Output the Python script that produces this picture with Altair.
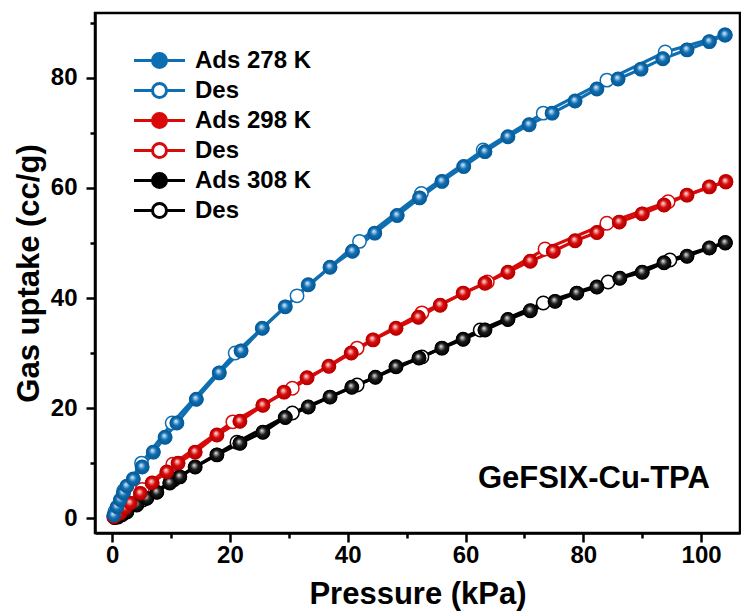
import altair as alt
import pandas as pd

# ---------------- data ----------------
P_ADS_278 = [0.3, 0.85, 1.4, 1.9, 2.5, 3.6, 5.1, 7.0, 9.0, 11.0, 14.3, 18.2, 21.9, 25.5, 29.4,
             33.3, 37.0, 40.8, 44.6, 48.4, 52.2, 56.0, 59.7, 63.3, 67.2, 70.8, 74.7, 78.6,
             82.3, 85.9, 89.8, 93.5, 97.6, 101.4, 104.1]
U_ADS_278 = [0.5, 2.0, 3.3, 4.5, 5.8, 7.1, 9.3, 12.0, 14.7, 17.3, 21.6, 26.4, 30.4, 34.5, 38.4,
             42.4, 45.6, 48.5, 51.8, 55.0, 58.2, 61.2, 63.9, 66.6, 69.3, 71.5, 73.6, 75.8,
             78.0, 79.8, 81.6, 83.5, 85.1, 86.6, 87.8]
P_DES_278 = [104.0, 93.9, 84.0, 73.2, 63.0, 52.5, 42.0, 31.4, 20.9, 10.2, 5.0, 2.0, 0.5]
U_DES_278 = [87.8, 84.7, 79.6, 73.6, 66.9, 59.0, 50.3, 40.4, 30.0, 17.3, 10.0, 5.0, 1.2]

P_ADS_298 = [0.3, 0.7, 1.4, 2.2, 3.1, 4.8, 6.8, 9.3, 11.2, 14.1, 17.8, 21.7, 25.6, 29.2, 33.1,
             36.8, 40.6, 44.3, 48.2, 52.0, 55.7, 59.6, 63.3, 67.2, 71.0, 74.9, 78.6, 82.3,
             86.1, 90.0, 93.7, 97.6, 101.4, 104.2]
U_ADS_298 = [0.2, 0.5, 0.9, 1.8, 2.7, 4.5, 6.4, 8.4, 10.0, 12.0, 15.1, 17.6, 20.5, 22.9, 25.5,
             27.6, 30.0, 32.4, 34.5, 36.5, 38.7, 40.9, 42.7, 44.7, 46.7, 48.5, 50.4, 51.9,
             53.8, 55.3, 56.9, 58.7, 60.2, 61.1]
P_DES_298 = [104.2, 94.4, 84.0, 73.5, 63.7, 52.6, 41.6, 30.6, 20.5, 10.3, 5.1, 2.0, 0.5]
U_DES_298 = [61.2, 57.5, 53.6, 48.9, 42.9, 37.3, 30.9, 23.6, 17.5, 9.8, 5.2, 2.0, 0.5]

P_ADS_308 = [0.4, 1.0, 1.7, 2.5, 4.2, 5.9, 7.6, 9.8, 11.5, 14.1, 17.8, 21.7, 25.6, 29.4, 33.3,
             37.0, 40.7, 44.7, 48.2, 52.1, 56.0, 59.6, 63.3, 67.2, 71.0, 75.2, 78.9, 82.3,
             86.2, 90.0, 93.7, 97.6, 101.4, 104.1]
U_ADS_308 = [0.1, 0.2, 0.6, 1.1, 2.4, 3.6, 4.7, 6.4, 7.5, 9.3, 11.5, 13.6, 15.6, 18.3, 20.2,
             22.0, 23.8, 25.6, 27.5, 29.1, 30.9, 32.5, 34.2, 36.1, 37.7, 39.4, 40.9, 42.0,
             43.6, 44.7, 46.4, 47.6, 49.1, 50.0]
P_DES_308 = [104.1, 94.7, 84.2, 73.2, 62.5, 52.6, 41.6, 30.6, 21.2, 10.5, 5.2, 2.0, 0.5]
U_DES_308 = [50.1, 46.9, 42.9, 39.1, 34.2, 29.3, 24.2, 19.1, 13.8, 7.0, 3.3, 1.0, 0.2]

SERIES = ["Ads 278 K", "Des 278 K", "Ads 298 K", "Des 298 K", "Ads 308 K", "Des 308 K"]
TEMPS = ["278 K", "298 K", "308 K"]
BLUE, RED, BLACK = "#0E6EB2", "#D90A0A", "#000000"
TEMP_COLORS = [BLUE, RED, BLACK]
STROKES = [BLUE, BLUE, RED, RED, BLACK, BLACK]
FILLS = [BLUE, "#ffffff", RED, "#ffffff", BLACK, "#ffffff"]

ANNOT_TEXT = ["GeFSIX-Cu-TPA"]
ANNOT_P = [81.8]
ANNOT_U = [7.1]

X_TICKS = list(range(0, 101, 10))
Y_TICKS = list(range(0, 91, 10))

# drawing order: black first, blue last
ORDERED = [
    ("Des 308 K", P_DES_308, U_DES_308), ("Ads 308 K", P_ADS_308, U_ADS_308),
    ("Des 298 K", P_DES_298, U_DES_298), ("Ads 298 K", P_ADS_298, U_ADS_298),
    ("Des 278 K", P_DES_278, U_DES_278), ("Ads 278 K", P_ADS_278, U_ADS_278),
]
rows = []
for name, ps, us in ORDERED:
    rows += [{"P": p, "U": u, "series": name, "temp": name[4:]} for p, u in zip(ps, us)]
df = pd.DataFrame(rows)
annot = pd.DataFrame({"P": ANNOT_P, "U": ANNOT_U, "label": ANNOT_TEXT})

FONT = "Liberation Sans"

x_enc = alt.X("P:Q", title="Pressure (kPa)",
              scale=alt.Scale(domain=[-2.9, 106.6], nice=False, zero=False),
              axis=alt.Axis(values=X_TICKS, grid=False,
                            labelExpr="datum.value % 20 === 0 ? datum.label : ''",
                            tickSize={"condition": {"test": "datum.value % 20 === 0", "value": 9}, "value": 5},
                            labelPadding=1, titlePadding=12, labelFlush=False, labelOverlap=False))
y_enc = alt.Y("U:Q", title="Gas uptake (cc/g)",
              scale=alt.Scale(domain=[-2.7, 91.8], nice=False, zero=False),
              axis=alt.Axis(values=Y_TICKS, grid=False,
                            labelExpr="datum.value % 20 === 0 ? datum.label : ''",
                            tickSize={"condition": {"test": "datum.value % 20 === 0", "value": 9}, "value": 5},
                            labelPadding=9, titlePadding=5, labelFlush=False, labelOverlap=False))

# legend glyph: line through a circle; unit box is 28 px, line spans 51 px
LEG_PATH = ("M-1.82,0L-0.5,0M0.5,0L1.82,0"
            "M0.5,0A0.5,0.5 0 1,1 -0.5,0A0.5,0.5 0 1,1 0.5,0Z")
legend = alt.Legend(title=None, orient="none", legendX=49, legendY=32, padding=0,
                    symbolType=LEG_PATH, symbolSize=784, symbolStrokeWidth=3,
                    symbolFillColor="#ffffff", symbolStrokeColor="#000000",
                    symbolOpacity=1, rowPadding=1.0, labelOffset=20,
                    labelFont=FONT, labelFontSize=24, labelFontWeight="bold",
                    labelColor="black", labelLimit=300,
                    labelExpr="indexof(datum.label, 'Des') === 0 ? 'Des' : datum.label")

lines = alt.Chart(df).mark_line(strokeWidth=3.2).encode(
    x=x_enc, y=y_enc,
    color=alt.Color("temp:N", scale=alt.Scale(domain=TEMPS, range=TEMP_COLORS), legend=None),
    detail="series:N",
)

points = alt.Chart(df).mark_point(shape="circle", size=180, strokeWidth=1.5, opacity=1, filled=False).encode(
    x=x_enc, y=y_enc,
    stroke=alt.Stroke("series:N", scale=alt.Scale(domain=SERIES, range=STROKES), legend=legend),
    fill=alt.Fill("series:N", scale=alt.Scale(domain=SERIES, range=FILLS), legend=legend),
)


def grad(c0, c1, c2, c3):
    return {"gradient": "radial", "x1": 0.42, "y1": 0.36, "r1": 0,
            "x2": 0.5, "y2": 0.5, "r2": 0.55,
            "stops": [{"offset": 0, "color": c0}, {"offset": 0.22, "color": c1},
                      {"offset": 0.5, "color": c2}, {"offset": 1, "color": c3}]}


GRADS = {
    "Ads 308 K": (grad("#f0f0f0", "#8a8a8a", "#1a1a1a", "#000000"), BLACK),
    "Ads 298 K": (grad("#fde8e8", "#ec8a8a", "#d90a0a", "#a80000"), "#b80000"),
    "Ads 278 K": (grad("#e8f2fa", "#86b9e0", "#0e6eb2", "#08558c"), "#0a5c98"),
}
overlays = []
for name in ["Ads 308 K", "Ads 298 K", "Ads 278 K"]:
    g, edge = GRADS[name]
    overlays.append(
        alt.Chart(df).transform_filter(alt.datum.series == name)
        .mark_point(shape="circle", size=180, fill=g, filled=True, stroke=edge,
                    strokeWidth=1, opacity=1)
        .encode(x=x_enc, y=y_enc)
    )

text = alt.Chart(annot).mark_text(font=FONT, fontSize=31, fontWeight="bold",
                                  align="center", baseline="middle", color="black").encode(
    x=x_enc, y=y_enc, text="label:N")

chart = alt.layer(lines, points, *overlays, text).properties(
    width=645, height=520,
    autosize=alt.AutoSizeParams(type="none"),
    padding={"left": 95, "top": 13, "right": 1, "bottom": 80},
    background="white",
).configure_view(stroke="black", strokeWidth=2.5).configure_axis(
    domainColor="black", domainWidth=2.5, tickColor="black", tickWidth=2.5,
    labelFont=FONT, labelFontSize=24, labelFontWeight="bold", labelColor="black",
    titleFont=FONT, titleFontSize=31, titleFontWeight="bold", titleColor="black",
)

chart.save("out.html", embed_options={"renderer": "svg", "actions": False})
